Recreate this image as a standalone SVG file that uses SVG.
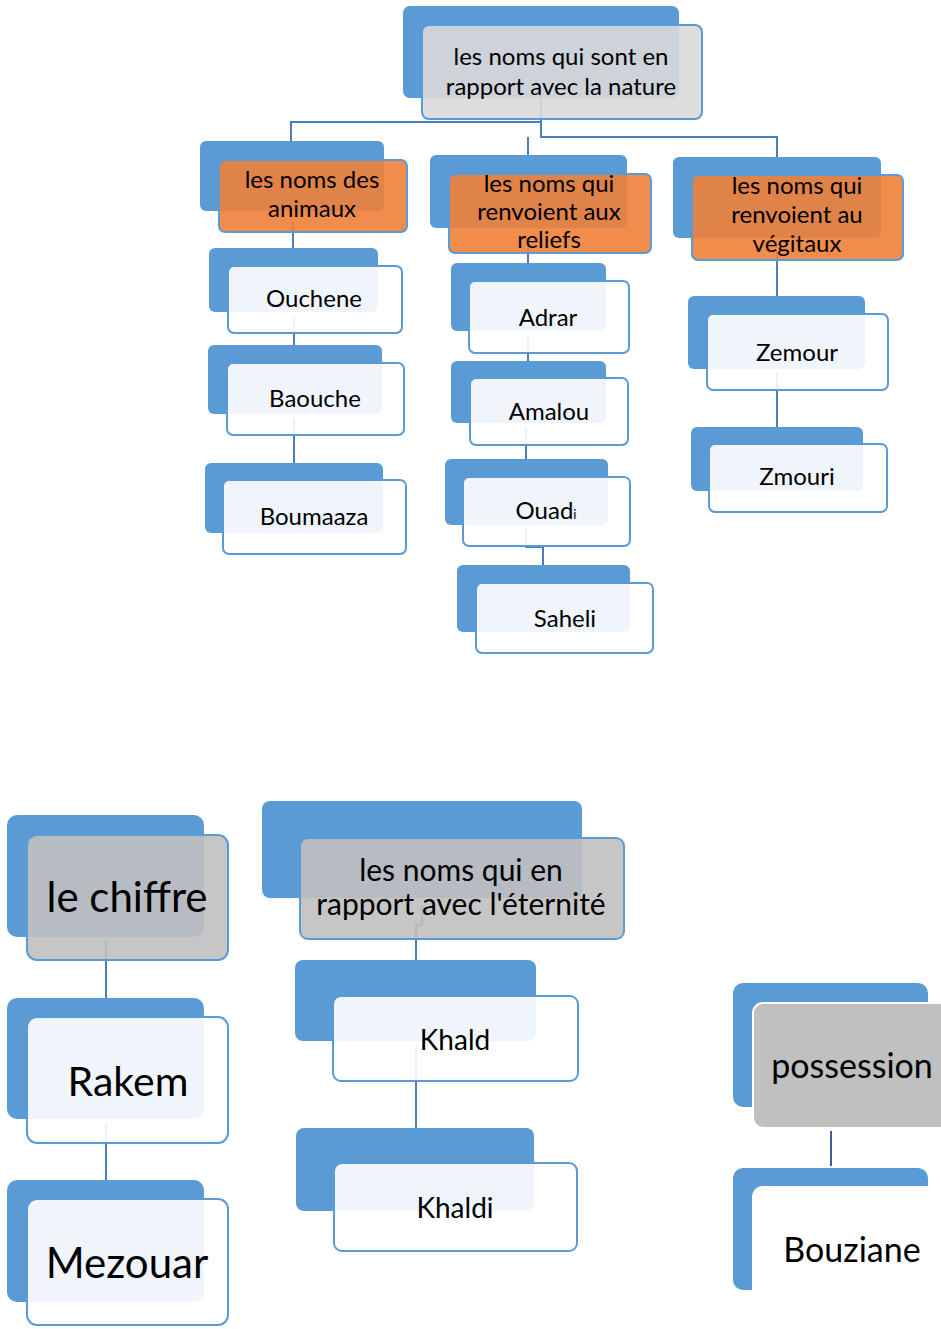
<svg xmlns="http://www.w3.org/2000/svg" width="941" height="1329" viewBox="0 0 941 1329">
<style>
.bk{fill:#5B9BD5}
.fr{stroke:#5B9BD5;stroke-width:2}
.lf{fill:#FFFFFF;fill-opacity:0.9}
.or{fill:#EE8138;fill-opacity:0.9}
.g1{fill:#D9D9D9;fill-opacity:0.9}
.g2{fill:#C0C0C0;fill-opacity:0.9}
.g3{fill:#C0C0C0;stroke:#FFFFFF;stroke-width:2}
.wh{fill:#FFFFFF;stroke:#FFFFFF;stroke-width:2}
.c{fill:none;stroke:#4A7EBB;stroke-width:2}
.c2{fill:none;stroke:#3E5F98;stroke-width:2}
text{font-family:Lato,"Liberation Sans",sans-serif;fill:#000;text-anchor:middle}
.t24{font-size:24px}
.t30{font-size:30px}
.t28{font-size:28px}
.t42{font-size:42px}
.t41{font-size:41px}
.t34{font-size:34px}
</style>
<g id="connectors">
<path class="c" d="M541,90 V122 H291 V150"/>
<path class="c" d="M541,122 V137 H777 V165"/>
<path class="c" d="M528,137 V165"/>
<path class="c" d="M293,222 V255"/>
<path class="c" d="M294,316 V350"/>
<path class="c" d="M294,418 V470"/>
<path class="c" d="M528,240 V270"/>
<path class="c" d="M528,335 V365"/>
<path class="c" d="M526,427 V465"/>
<path class="c" d="M526,528 V547 H543 V570"/>
<path class="c" d="M777,250 V300"/>
<path class="c" d="M777,372 V430"/>
<path class="c" d="M106,940 V1000"/>
<path class="c" d="M106,1123 V1185"/>
<path class="c" d="M422,905 V925 H416 V965"/>
<path class="c" d="M416,1045 V1130"/>
<path class="c2" d="M831,1131 V1166"/>
</g>
<g id="root">
<rect class="bk" x="403" y="6" width="276" height="92" rx="7"/>
<rect class="fr g1" x="422" y="25" width="280" height="94" rx="7"/>
<text class="t24" x="561" y="65">les noms qui sont en</text>
<text class="t24" x="561" y="95">rapport avec la nature</text>
</g>
<g id="cat-animaux">
<rect class="bk" x="200" y="141" width="184" height="70" rx="6"/>
<rect class="fr or" x="219" y="160" width="188" height="72" rx="6"/>
<text class="t24" x="312" y="188">les noms des</text>
<text class="t24" x="312" y="217">animaux</text>
</g>
<g id="cat-reliefs">
<rect class="bk" x="430" y="155" width="197" height="73" rx="6"/>
<rect class="fr or" x="449" y="174" width="202" height="79" rx="6"/>
<text class="t24" x="549" y="192">les noms qui</text>
<text class="t24" x="549" y="220">renvoient aux</text>
<text class="t24" x="549" y="248">reliefs</text>
</g>
<g id="cat-vegitaux">
<rect class="bk" x="673" y="157" width="208" height="81" rx="6"/>
<rect class="fr or" x="692" y="175" width="211" height="85" rx="6"/>
<text class="t24" x="797" y="194">les noms qui</text>
<text class="t24" x="797" y="223">renvoient au</text>
<text class="t24" x="797" y="252">végitaux</text>
</g>
<g id="ouchene">
<rect class="bk" x="209" y="248" width="169" height="64" rx="6"/>
<rect class="fr lf" x="228" y="266" width="174" height="67" rx="6"/>
<text class="t24" x="314" y="307">Ouchene</text>
</g>
<g id="baouche">
<rect class="bk" x="208" y="345" width="174" height="69" rx="6"/>
<rect class="fr lf" x="227" y="363" width="177" height="72" rx="6"/>
<text class="t24" x="315" y="407">Baouche</text>
</g>
<g id="boumaaza">
<rect class="bk" x="205" y="463" width="178" height="70" rx="6"/>
<rect class="fr lf" x="223" y="480" width="183" height="74" rx="6"/>
<text class="t24" x="314" y="525">Boumaaza</text>
</g>
<g id="adrar">
<rect class="bk" x="451" y="263" width="155" height="68" rx="6"/>
<rect class="fr lf" x="469" y="281" width="160" height="72" rx="6"/>
<text class="t24" x="548" y="326">Adrar</text>
</g>
<g id="amalou">
<rect class="bk" x="451" y="361" width="155" height="62" rx="6"/>
<rect class="fr lf" x="470" y="378" width="158" height="67" rx="6"/>
<text class="t24" x="549" y="420">Amalou</text>
</g>
<g id="ouadi">
<rect class="bk" x="445" y="459" width="163" height="66" rx="6"/>
<rect class="fr lf" x="463" y="477" width="167" height="69" rx="6"/>
<text class="t24" x="546" y="519">Ouad<tspan font-size="13px">i</tspan></text>
</g>
<g id="saheli">
<rect class="bk" x="457" y="565" width="173" height="67" rx="6"/>
<rect class="fr lf" x="476" y="583" width="177" height="70" rx="6"/>
<text class="t24" x="565" y="627">Saheli</text>
</g>
<g id="zemour">
<rect class="bk" x="688" y="296" width="177" height="73" rx="6"/>
<rect class="fr lf" x="707" y="314" width="181" height="76" rx="6"/>
<text class="t24" x="797" y="361">Zemour</text>
</g>
<g id="zmouri">
<rect class="bk" x="691" y="427" width="172" height="64" rx="6"/>
<rect class="fr lf" x="709" y="444" width="178" height="68" rx="6"/>
<text class="t24" x="797" y="485">Zmouri</text>
</g>
<g id="le-chiffre">
<rect class="bk" x="7" y="815" width="197" height="122" rx="10"/>
<rect class="fr g2" x="27" y="835" width="201" height="125" rx="10"/>
<text class="t42" x="127" y="912">le chiffre</text>
</g>
<g id="rakem">
<rect class="bk" x="7" y="998" width="197" height="121" rx="10"/>
<rect class="fr lf" x="27" y="1017" width="201" height="126" rx="10"/>
<text class="t41" x="128" y="1096">Rakem</text>
</g>
<g id="mezouar">
<rect class="bk" x="7" y="1180" width="197" height="122" rx="10"/>
<rect class="fr lf" x="27" y="1199" width="201" height="126" rx="10"/>
<text class="t42" x="127" y="1278">Mezouar</text>
</g>
<g id="eternite">
<rect class="bk" x="262" y="801" width="320" height="97" rx="8"/>
<rect class="fr g2" x="300" y="838" width="324" height="101" rx="8"/>
<text class="t30" x="461" y="881">les noms qui en</text>
<text class="t30" x="461" y="915">rapport avec l'éternité</text>
</g>
<g id="khald">
<rect class="bk" x="295" y="960" width="241" height="81" rx="8"/>
<rect class="fr lf" x="333" y="996" width="245" height="85" rx="8"/>
<text class="t28" x="455" y="1050">Khald</text>
</g>
<g id="khaldi">
<rect class="bk" x="296" y="1128" width="238" height="83" rx="8"/>
<rect class="fr lf" x="334" y="1163" width="243" height="88" rx="8"/>
<text class="t28" x="455" y="1218">Khaldi</text>
</g>
<g id="possession">
<rect class="bk" x="733" y="983" width="195" height="124" rx="10"/>
<rect class="g3" x="753" y="1003" width="200" height="125" rx="10"/>
<text class="t34" x="852" y="1078">possession</text>
</g>
<g id="bouziane">
<rect class="bk" x="733" y="1168" width="195" height="122" rx="10"/>
<rect class="wh" x="753" y="1187" width="200" height="140" rx="10"/>
<text class="t34" x="852" y="1262">Bouziane</text>
</g>
</svg>
